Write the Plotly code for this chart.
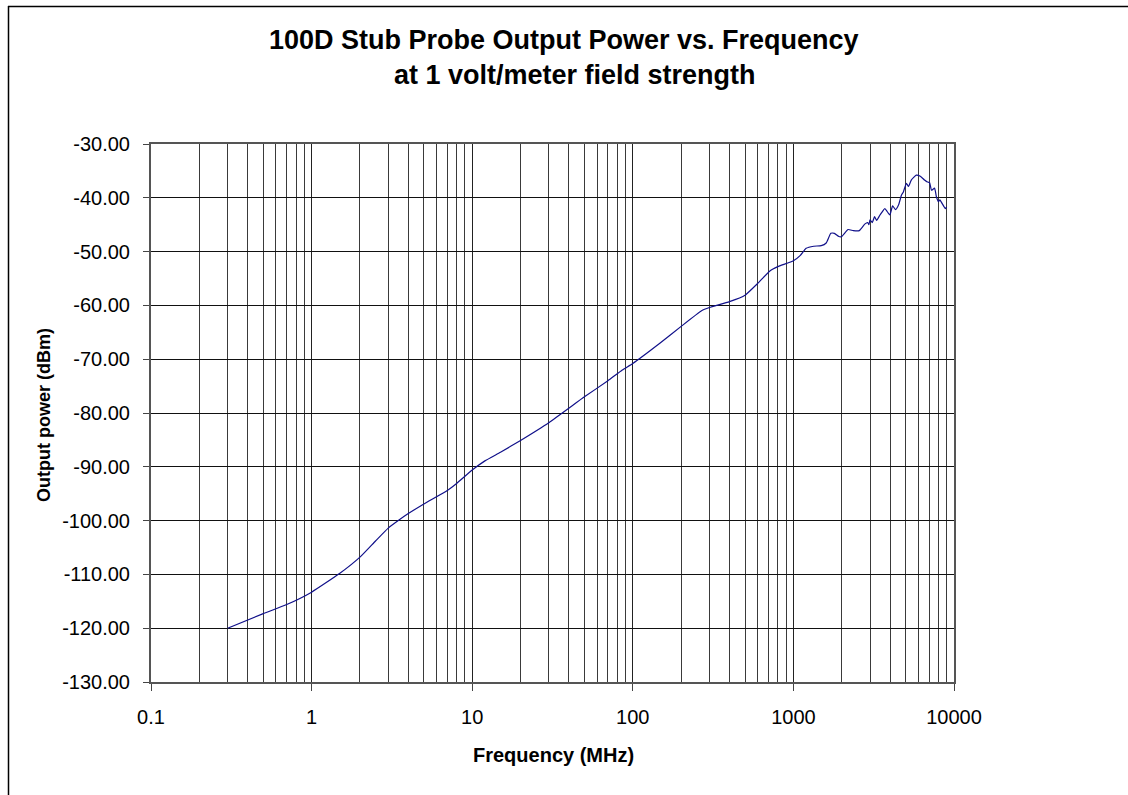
import plotly.graph_objects as go

# ---- data ----
freq_mhz = [0.3, 0.5, 0.7, 1.0, 1.5, 2, 2.5, 3, 3.5, 4, 5, 7, 8, 10, 12, 15, 20,
            30, 50, 70, 86,
            100, 148, 200, 268, 300, 400, 500, 600, 714, 800, 1000, 1105, 1200,
            1340, 1490, 1600, 1710, 1800, 1920, 2000, 2190, 2360, 2570, 2780,
            2900, 2950, 3000, 3100, 3200, 3300, 3460, 3710, 3985, 4145, 4330,
            4520, 4710, 4840, 5050, 5210, 5420, 5820, 6170, 6550, 6780, 7050,
            7240, 7570, 7770, 8000, 8170, 8830, 9000]
power_dbm = [-120.0, -117.3, -115.6, -113.3, -109.8, -106.8, -103.8, -101.4,
             -99.9, -98.7, -96.9, -94.4, -93.1, -90.6, -88.9, -87.3, -85.1,
             -81.8, -77.0, -74.0, -72.0,
             -70.8, -67.0, -63.9, -61.0, -60.4, -59.3, -58.1, -55.9, -53.6,
             -52.8, -51.7, -50.7, -49.4, -49.0, -48.9, -48.4, -46.6, -46.6,
             -47.2, -47.2, -45.9, -46.1, -46.1, -44.9, -44.6, -45.0, -44.1,
             -44.6, -43.5, -44.2, -43.2, -42.0, -43.2, -41.5, -42.2, -41.3,
             -39.5, -38.9, -37.3, -37.9, -36.7, -35.8, -36.0, -36.7, -37.0,
             -37.2, -38.6, -38.2, -39.8, -40.7, -40.4, -42.0, -41.7]

x_tick_vals = [0.1, 1, 10, 100, 1000, 10000]
x_tick_text = ["0.1", "1", "10", "100", "1000", "10000"]
y_tick_vals = [-130, -120, -110, -100, -90, -80, -70, -60, -50, -40, -30]
y_tick_text = [f"{v:.2f}" for v in y_tick_vals]
x_minor_vals = [m * 10.0 ** e for e in range(-1, 4) for m in range(2, 10)]

title_line1 = "100D Stub Probe Output Power vs. Frequency"
title_line2 = "at 1 volt/meter field strength"
x_title = "Frequency (MHz)"
y_title = "Output power (dBm)"

# ---- layout geometry ----
W, H = 1128, 795
L, R, T, B = 151, 174, 144, 113
PW, PH = W - L - R, H - T - B


def px_x(px):
    return (px - L) / PW


def px_y(py):
    return 1 - (py - T) / PH


FONT = "Liberation Sans, Arial, sans-serif"

fig = go.Figure()
fig.add_trace(go.Scatter(x=freq_mhz, y=power_dbm, mode="lines",
                         line=dict(color="#10108a", width=1.2, shape="spline",
                                   smoothing=0.4),
                         showlegend=False, hoverinfo="x+y"))

fig.update_layout(
    width=W, height=H,
    margin=dict(l=L, r=R, t=T, b=B, pad=0),
    paper_bgcolor="white", plot_bgcolor="white",
    font=dict(family=FONT, color="black"),
    xaxis=dict(type="log", range=[-1, 4], tickvals=x_tick_vals,
               ticktext=x_tick_text, tickfont=dict(size=20),
               showgrid=True, gridcolor="#222", gridwidth=1,
               ticks="outside", ticklen=7, tickcolor="#444", tickwidth=1,
               showline=True, linecolor="#555", linewidth=2, mirror=True,
               ticklabelstandoff=9, zeroline=False,
               minor=dict(tickvals=x_minor_vals, showgrid=True,
                          gridcolor="#3a3a3a", gridwidth=1, ticks="")),
    yaxis=dict(range=[-130, -30], tickvals=y_tick_vals, ticktext=y_tick_text,
               tickfont=dict(size=20), showgrid=True, gridcolor="#111",
               gridwidth=1, ticks="outside", ticklen=6, tickcolor="#444",
               showline=True, linecolor="#555", linewidth=2, mirror=True,
               ticklabelstandoff=9, zeroline=False),
)

ann = [
    dict(text=f"<b>{title_line1}</b>", x=px_x(564), y=px_y(40),
         font=dict(size=27)),
    dict(text=f"<b>{title_line2}</b>", x=px_x(575), y=px_y(75),
         font=dict(size=27)),
    dict(text=f"<b>{x_title}</b>", x=px_x(553), y=px_y(755),
         font=dict(size=20)),
    dict(text=f"<b>{y_title}</b>", x=px_x(44), y=px_y(415),
         font=dict(size=18), textangle=-90),
]
for a in ann:
    fig.add_annotation(xref="paper", yref="paper", showarrow=False,
                       xanchor="center", yanchor="middle", **a)

# outer frame: top and left edges
fig.add_shape(type="line", xref="paper", yref="paper",
              x0=px_x(8), x1=px_x(W), y0=px_y(6.5), y1=px_y(6.5),
              line=dict(color="black", width=1.5))
fig.add_shape(type="line", xref="paper", yref="paper",
              x0=px_x(8.5), x1=px_x(8.5), y0=px_y(6), y1=px_y(H),
              line=dict(color="black", width=1.5))

fig.write_html("out.html",
               config={"displayModeBar": False},
               post_script="document.body.style.margin='0';"
                           "document.body.style.overflow='hidden';")
